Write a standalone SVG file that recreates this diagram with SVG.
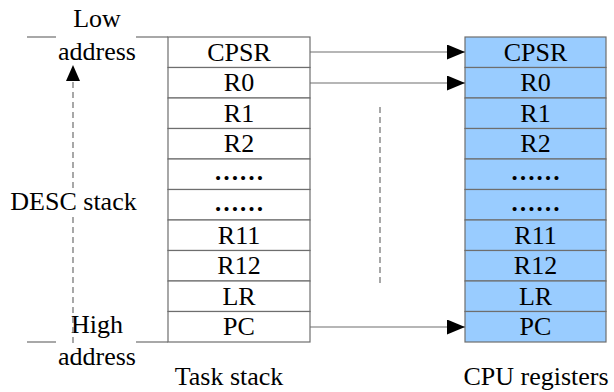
<svg xmlns="http://www.w3.org/2000/svg" width="614" height="392" viewBox="0 0 614 392" font-family="'Liberation Serif', 'Times New Roman', serif">
  <style>
    text { font-family: 'Liberation Serif', 'Times New Roman', serif; font-size: 26px; fill: #000; text-anchor: middle; }
    .dots { font-weight: bold; font-size: 25px; }
    .cell { fill: #fff; stroke: #6e6e6e; stroke-width: 1.2; }
    .reg { fill: #99ccff; stroke: #6e6e6e; stroke-width: 1.2; }
    .line { stroke: #6e6e6e; stroke-width: 1.2; fill: none; }
    .dash { stroke: #6e6e6e; stroke-width: 1.2; fill: none; stroke-dasharray: 6 4; }
  </style>
  <defs>
    <marker id="head" markerWidth="18" markerHeight="15" refX="18" refY="7.5" orient="auto" markerUnits="userSpaceOnUse">
      <path d="M0,0 L18,7.5 L0,15 Z" fill="#000"/>
    </marker>
  </defs>

  <!-- address range labels and bounds -->
  <g id="address-labels">
    <line class="line" x1="27" y1="37" x2="56" y2="37"/>
    <line class="line" x1="136" y1="37" x2="168" y2="37"/>
    <line class="line" x1="27" y1="342" x2="56" y2="342"/>
    <line class="line" x1="136" y1="342" x2="168" y2="342"/>
    <text x="97" y="27">Low</text>
    <text x="97" y="60">address</text>
    <text x="97" y="333">High</text>
    <text x="97" y="365">address</text>
    <text x="73.5" y="210">DESC stack</text>
  </g>

  <!-- task stack -->
  <g id="task-stack">
    <rect class="cell" x="168" y="37" width="142" height="30.5"/>
    <rect class="cell" x="168" y="67.5" width="142" height="30.5"/>
    <rect class="cell" x="168" y="98" width="142" height="30.5"/>
    <rect class="cell" x="168" y="128.5" width="142" height="30.5"/>
    <rect class="cell" x="168" y="159" width="142" height="30.5"/>
    <rect class="cell" x="168" y="189.5" width="142" height="30.5"/>
    <rect class="cell" x="168" y="220" width="142" height="30.5"/>
    <rect class="cell" x="168" y="250.5" width="142" height="30.5"/>
    <rect class="cell" x="168" y="281" width="142" height="30.5"/>
    <rect class="cell" x="168" y="311.5" width="142" height="30.5"/>
    <text x="239" y="60.5">CPSR</text>
    <text x="239" y="91">R0</text>
    <text x="239" y="121.5">R1</text>
    <text x="239" y="152">R2</text>
    <text class="dots" x="239" y="180">……</text>
    <text class="dots" x="239" y="210.5">……</text>
    <text x="239" y="243.5">R11</text>
    <text x="239" y="274">R12</text>
    <text x="239" y="304.5">LR</text>
    <text x="239" y="335">PC</text>
    <text x="229" y="385">Task stack</text>
  </g>

  <!-- CPU registers -->
  <g id="cpu-registers">
    <rect class="reg" x="465" y="37" width="141" height="30.5"/>
    <rect class="reg" x="465" y="67.5" width="141" height="30.5"/>
    <rect class="reg" x="465" y="98" width="141" height="30.5"/>
    <rect class="reg" x="465" y="128.5" width="141" height="30.5"/>
    <rect class="reg" x="465" y="159" width="141" height="30.5"/>
    <rect class="reg" x="465" y="189.5" width="141" height="30.5"/>
    <rect class="reg" x="465" y="220" width="141" height="30.5"/>
    <rect class="reg" x="465" y="250.5" width="141" height="30.5"/>
    <rect class="reg" x="465" y="281" width="141" height="30.5"/>
    <rect class="reg" x="465" y="311.5" width="141" height="30.5"/>
    <text x="535.5" y="60.5">CPSR</text>
    <text x="535.5" y="91">R0</text>
    <text x="535.5" y="121.5">R1</text>
    <text x="535.5" y="152">R2</text>
    <text class="dots" x="535.5" y="180">……</text>
    <text class="dots" x="535.5" y="210.5">……</text>
    <text x="535.5" y="243.5">R11</text>
    <text x="535.5" y="274">R12</text>
    <text x="535.5" y="304.5">LR</text>
    <text x="535.5" y="335">PC</text>
    <text x="536" y="385">CPU registers</text>
  </g>

  <!-- connectors -->
  <g id="connectors">
    <line class="line" x1="310" y1="52" x2="465" y2="52" marker-end="url(#head)"/>
    <line class="line" x1="310" y1="83" x2="465" y2="83" marker-end="url(#head)"/>
    <line class="line" x1="310" y1="327" x2="465" y2="327" marker-end="url(#head)"/>
    <line class="dash" x1="380" y1="107" x2="380" y2="286"/>
    <line class="dash" x1="73" y1="343" x2="73" y2="215"/>
    <line class="dash" x1="73" y1="188" x2="73" y2="81"/>
    <path d="M73,65 L80,81 L66,81 Z" fill="#000"/>
  </g>
</svg>
